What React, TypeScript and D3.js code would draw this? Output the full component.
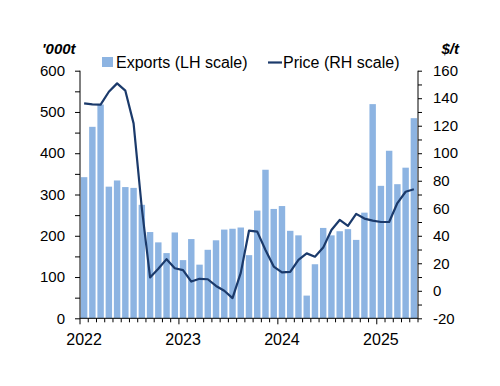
import { useEffect, useRef } from "react"
import * as d3 from "d3"

// monthly, Jan 2022 .. May 2025
const months: Date[] = d3.timeMonth.range(new Date(2022, 0, 1), new Date(2025, 5, 1))

const exports_kt = [
  342, 464, 518, 319, 334, 318, 316, 275, 209, 184, 158, 208,
  141, 192, 130, 166, 189, 215, 217, 220, 153, 261, 360, 265,
  272, 212, 201, 55, 131, 219, 201, 211, 216, 190, 256, 519,
  321, 406, 325, 365, 485,
]

const price_usd = [
  136.3, 135.5, 135.3, 144.7, 150.8, 145.5, 121.7, 60, 9.7, 16, 23, 16.4,
  15, 6.7, 8.7, 8.4, 3.5, 0, -5.3, 13, 43.7, 43, 29.7, 17.6,
  13.4, 13.7, 22.4, 27.2, 24.8, 31.4, 44.2, 51.5, 47.2, 55.9, 52.5, 51,
  50, 50, 63.8, 72, 73.8,
]

const leftTicks = [0, 100, 200, 300, 400, 500, 600]
const rightTicks = [-20, 0, 20, 40, 60, 80, 100, 120, 140, 160]
const yearLabels = ["2022", "2023", "2024", "2025"]

const BAR = "#8db4e2"
const LINE = "#1b3a6b"
const FONT = "'Liberation Sans', Arial, sans-serif"

export default function App() {
  const svgRef = useRef<SVGSVGElement>(null)

  useEffect(() => {
    const svg = d3.select(svgRef.current)
    svg.selectAll("*").remove()

    const left = 80, right = 418, top = 70.7, bottom = 318.3

    const x = d3.scaleBand<number>()
      .domain(d3.range(months.length))
      .range([left, right])
      .paddingInner(0.22)
      .paddingOuter(0.11)
    const step = x.step()
    const cx = (i: number) => (x(i) as number) + x.bandwidth() / 2

    const yL = d3.scaleLinear().domain([0, 600]).range([bottom, top])
    const yR = d3.scaleLinear().domain([-20, 160]).range([bottom, top])

    // bars
    svg.append("g")
      .selectAll("rect")
      .data(exports_kt)
      .join("rect")
      .attr("x", (_, i) => x(i) as number)
      .attr("width", x.bandwidth())
      .attr("y", d => yL(d))
      .attr("height", d => yL(0) - yL(d))
      .attr("fill", BAR)

    // price line
    const line = d3.line<number>()
      .x((_, i) => cx(i))
      .y(d => yR(d))
    svg.append("path")
      .datum(price_usd)
      .attr("d", line)
      .attr("fill", "none")
      .attr("stroke", LINE)
      .attr("stroke-width", 2.2)
      .attr("stroke-linejoin", "round")

    // left axis, minor ticks every 50
    const gL = svg.append("g").attr("transform", `translate(${left},0)`)
    gL.call(d3.axisLeft(yL).tickValues(d3.range(0, 601, 50)).tickSize(5).tickFormat(() => ""))
    gL.selectAll(".tick text").remove()
    gL.selectAll("path,line").attr("stroke", "#000")
    gL.select(".domain").attr("d", `M0,${top}V${bottom}`)

    // right axis, ticks every 10
    const gR = svg.append("g").attr("transform", `translate(${right},0)`)
    gR.call(d3.axisRight(yR).tickValues(d3.range(-20, 161, 10)).tickSize(4).tickFormat(() => ""))
    gR.selectAll("path,line").attr("stroke", "#000")
    gR.select(".domain").attr("d", `M0,${top}V${bottom}`)

    // bottom axis: month boundaries
    const gB = svg.append("g")
    gB.append("line")
      .attr("x1", left).attr("x2", right)
      .attr("y1", bottom).attr("y2", bottom)
      .attr("stroke", "#000")
    gB.selectAll("line.tk")
      .data(d3.range(months.length + 1))
      .join("line")
      .attr("class", "tk")
      .attr("x1", i => left + i * step)
      .attr("x2", i => left + i * step)
      .attr("y1", bottom)
      .attr("y2", i => bottom + (i % 12 === 0 ? 6 : 4))
      .attr("stroke", "#000")

    const txt = svg.append("g")
      .attr("font-family", FONT)
      .attr("fill", "#000")

    txt.selectAll("text.yl")
      .data(leftTicks)
      .join("text")
      .attr("class", "yl")
      .attr("x", 65)
      .attr("y", d => yL(d))
      .attr("dy", "0.35em")
      .attr("text-anchor", "end")
      .attr("font-size", 15)
      .text(d => d)

    txt.selectAll("text.yr")
      .data(rightTicks)
      .join("text")
      .attr("class", "yr")
      .attr("x", 433)
      .attr("y", d => yR(d))
      .attr("dy", "0.35em")
      .attr("font-size", 15)
      .text(d => d)

    txt.selectAll("text.xl")
      .data(yearLabels)
      .join("text")
      .attr("class", "xl")
      .attr("x", (_, k) => cx(k * 12))
      .attr("y", 345)
      .attr("text-anchor", "middle")
      .attr("font-size", 16)
      .text(d => d)

    // units
    txt.append("text")
      .attr("x", 42).attr("y", 54)
      .attr("font-size", 15).attr("font-weight", "bold").attr("font-style", "italic")
      .text("'000t")
    txt.append("text")
      .attr("x", 459).attr("y", 54)
      .attr("text-anchor", "end")
      .attr("font-size", 15).attr("font-weight", "bold").attr("font-style", "italic")
      .text("$/t")

    // legend
    const lg = svg.append("g").attr("font-family", FONT).attr("font-size", 16)
    lg.append("rect").attr("x", 102).attr("y", 57).attr("width", 11).attr("height", 10).attr("fill", BAR)
    lg.append("text").attr("x", 116).attr("y", 68).text("Exports (LH scale)")
    lg.append("line")
      .attr("x1", 268).attr("x2", 282).attr("y1", 62.5).attr("y2", 62.5)
      .attr("stroke", LINE).attr("stroke-width", 2.2)
    lg.append("text").attr("x", 283).attr("y", 68).text("Price (RH scale)")
  }, [])

  return (
    <svg
      ref={svgRef}
      width={500}
      height={386}
      style={{ position: "absolute", left: 0, top: 0, background: "#fff" }}
    />
  )
}
